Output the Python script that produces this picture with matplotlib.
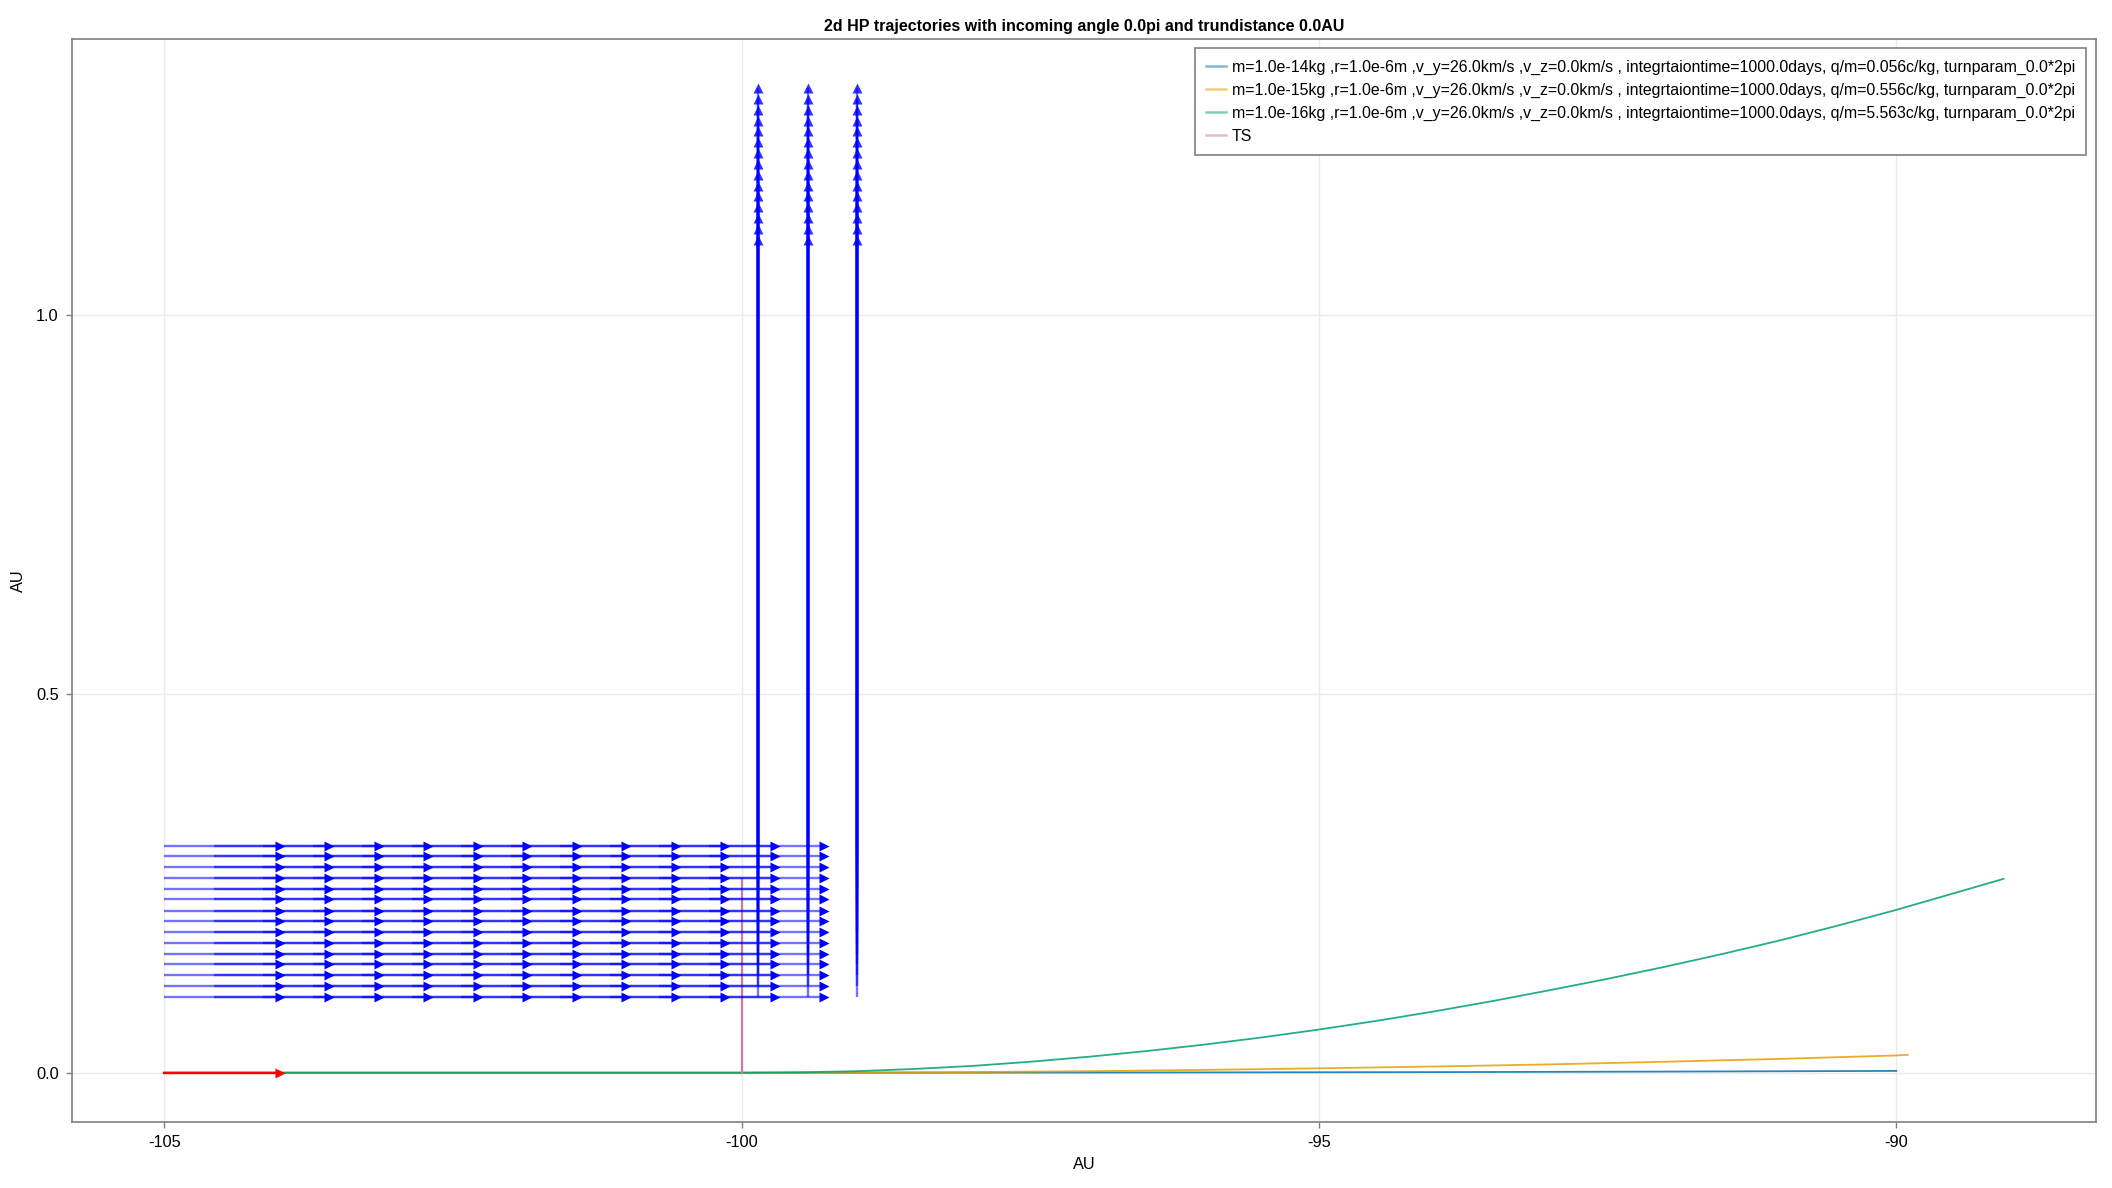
import matplotlib
matplotlib.use('Agg')
import matplotlib.pyplot as plt
from matplotlib.collections import LineCollection

plt.rcParams['font.family'] = ['Liberation Sans', 'DejaVu Sans']
plt.rcParams['axes.unicode_minus'] = False

title = '2d HP trajectories with incoming angle 0.0pi and trundistance 0.0AU'

labels = [
    'm=1.0e-14kg ,r=1.0e-6m ,v_y=26.0km/s ,v_z=0.0km/s , integrtaiontime=1000.0days, q/m=0.056c/kg, turnparam_0.0*2pi',
    'm=1.0e-15kg ,r=1.0e-6m ,v_y=26.0km/s ,v_z=0.0km/s , integrtaiontime=1000.0days, q/m=0.556c/kg, turnparam_0.0*2pi',
    'm=1.0e-16kg ,r=1.0e-6m ,v_y=26.0km/s ,v_z=0.0km/s , integrtaiontime=1000.0days, q/m=5.563c/kg, turnparam_0.0*2pi',
]
colors = ['#0072B2', '#E69F00', '#009E73']

# trajectories (x, y) in AU
traj1_x = [-105.0, -100.0, -98.0, -96.0, -94.0, -92.0, -90.0]
traj1_y = [0.0, 0.0, 0.0001, 0.0004, 0.0008, 0.0015, 0.0024]
traj2_x = [-105.0, -100.0, -99.0, -98.0, -97.0, -96.0, -95.0, -94.0, -93.0,
           -92.0, -91.0, -90.0, -89.9]
traj2_y = [0.0, 0.0, 0.0002, 0.0009, 0.002, 0.0037, 0.0058, 0.0082, 0.011,
           0.0145, 0.0183, 0.0228, 0.0236]
traj3_x = [-105.0, -100.0, -99.5, -99.0, -98.5, -98.0, -97.5, -97.0, -96.5,
           -96.0, -95.5, -95.0, -94.5, -94.0, -93.5, -93.0, -92.5, -92.0,
           -91.5, -91.0, -90.5, -90.0, -89.5, -89.07]
traj3_y = [0.0, 0.0, 0.0005, 0.002, 0.005, 0.009, 0.0145, 0.021, 0.0285,
           0.037, 0.0465, 0.057, 0.0685, 0.081, 0.0945, 0.109, 0.124, 0.140,
           0.157, 0.175, 0.1945, 0.215, 0.237, 0.256]

# termination shock marker
ts_x = [-100.0, -100.0]
ts_y = [0.0, 0.256]

# field arrows on a grid
grid_x = [-105.0, -104.571, -104.143, -103.714, -103.286, -102.857, -102.429,
          -102.0, -101.571, -101.143, -100.714, -100.286, -99.857, -99.429, -99.0]
grid_y = [0.1, 0.114, 0.129, 0.143, 0.157, 0.171, 0.186, 0.2, 0.214, 0.229,
          0.243, 0.257, 0.271, 0.286, 0.3]
field_u = [1, 1, 1, 1, 1, 1, 1, 1, 1, 1, 1, 1, 0, 0, 0]
field_v = [0, 0, 0, 0, 0, 0, 0, 0, 0, 0, 0, 0, 1, 1, 1]

# incoming direction arrow
inc_x, inc_y, inc_u, inc_v = -105.0, 0.0, 1.0, 0.0

fig = plt.figure(figsize=(21.12, 11.88), dpi=100)
ax = fig.add_axes([0.0341, 0.0556, 0.9583, 0.9116])

l1, = ax.plot(traj1_x, traj1_y, color=colors[0], lw=1.3, alpha=0.85, label=labels[0])
l2, = ax.plot(traj2_x, traj2_y, color=colors[1], lw=1.3, alpha=0.85, label=labels[1])
l3, = ax.plot(traj3_x, traj3_y, color=colors[2], lw=1.3, alpha=0.85, label=labels[2])
l4, = ax.plot(ts_x, ts_y, color='#CC79A7', lw=1.6, alpha=1.0, label='TS')

segs = []
heads_r = []
heads_u = []
for i, x in enumerate(grid_x):
    for y in grid_y:
        ex, ey = x + field_u[i], y + field_v[i]
        segs.append([(x, y), (ex, ey)])
        if field_u[i] > 0:
            heads_r.append((ex, ey))
        else:
            heads_u.append((ex, ey))
ax.add_collection(LineCollection(segs, colors='blue', linewidths=1.7, alpha=0.55, zorder=4))
ax.plot([p[0] for p in heads_r], [p[1] for p in heads_r], ls='none', marker='>',
        ms=7, color='blue', mec='none', zorder=5)
ax.plot([p[0] for p in heads_u], [p[1] for p in heads_u], ls='none', marker='^',
        ms=6.5, color='blue', mec='none', alpha=0.8, zorder=5)

ax.plot([inc_x, inc_x + inc_u], [inc_y, inc_y + inc_v], color='red', lw=1.7, zorder=6)
ax.plot([inc_x + inc_u], [inc_y + inc_v], ls='none', marker='>', ms=7.5,
        color='red', mec='none', zorder=6)

ax.set_xlim(-105.8, -88.27)
ax.set_ylim(-0.065, 1.365)
ax.set_xticks([-105, -100, -95, -90])
ax.set_xticklabels(['-105', '-100', '-95', '-90'])
ax.set_yticks([0.0, 0.5, 1.0])
ax.set_yticklabels(['0.0', '0.5', '1.0'])
ax.grid(True, color='#ebebeb', lw=1.0)
ax.set_axisbelow(True)
for s in ax.spines.values():
    s.set_color('#808080')
    s.set_linewidth(1.2)
ax.tick_params(direction='out', length=4.5, width=1.0, color='#808080',
               labelsize=11.8, pad=5)
ax.set_xlabel('AU', fontsize=11.8, labelpad=5)
ax.set_ylabel('AU', fontsize=11.8, labelpad=7)
ax.set_title(title, fontsize=11.5, fontweight='bold', pad=6)

leg = ax.legend(handles=[l1, l2, l3, l4], loc='upper right', fontsize=11.4,
                fancybox=False, framealpha=1, edgecolor='#808080',
                handlelength=1.25, handletextpad=0.4, labelspacing=0.5,
                borderpad=0.7, borderaxespad=0.6)
leg.get_frame().set_linewidth(1.2)
for h in leg.legend_handles:
    h.set_alpha(0.5)
    h.set_linewidth(1.8)

fig.savefig('out.png', dpi=100)
